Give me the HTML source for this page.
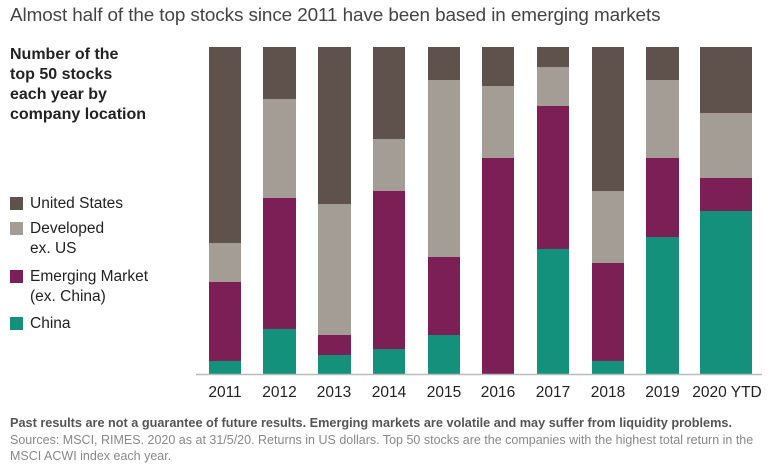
<!DOCTYPE html>
<html><head><meta charset="utf-8"><style>
body{margin:0;background:#fff;width:774px;height:475px;overflow:hidden;position:relative;font-family:"Liberation Sans",sans-serif;color:#222}
.t{position:absolute;white-space:nowrap}
.sq{position:absolute;left:10px;width:13px;height:13px}
</style></head><body>
<div class="t" style="left:10px;top:5px;font-size:18.9px;color:#444;letter-spacing:-0.1px">Almost half of the top stocks since 2011 have been based in emerging markets</div>
<div class="t" style="left:10px;top:45px;font-size:16px;font-weight:bold;line-height:20px;color:#222">Number of the<br>top 50 stocks<br>each year by<br>company location</div>

<div class="sq" style="top:197px;background:#5f524c"></div>
<div class="t" style="left:30px;top:194px;font-size:15.5px;line-height:20px">United States</div>
<div class="sq" style="top:222px;background:#a39d96"></div>
<div class="t" style="left:30px;top:219px;font-size:15.5px;line-height:20px">Developed<br>ex. US</div>
<div class="sq" style="top:270px;background:#7b1f56"></div>
<div class="t" style="left:30px;top:267px;font-size:15.5px;line-height:20px">Emerging Market<br>(ex. China)</div>
<div class="sq" style="top:317px;background:#13917a"></div>
<div class="t" style="left:30px;top:314px;font-size:15.5px;line-height:20px">China</div>

<svg style="position:absolute;left:0;top:0" width="774" height="475">
<g id="bars"></g>
<line x1="196" y1="374.5" x2="762" y2="374.5" stroke="#bbb" stroke-width="1.5"/>
<g font-family="Liberation Sans, sans-serif" font-size="15.5" fill="#222" text-anchor="middle">
<text x="225" y="397">2011</text><text x="279.5" y="397">2012</text><text x="334" y="397">2013</text><text x="389" y="397">2014</text><text x="444" y="397">2015</text><text x="498" y="397">2016</text><text x="553" y="397">2017</text><text x="608" y="397">2018</text><text x="662.5" y="397">2019</text><text x="727" y="397">2020 YTD</text>
</g>
</svg>
<div class="t" style="left:10px;top:416px;font-size:12.7px;font-weight:bold;color:#555">Past results are not a guarantee of future results. Emerging markets are volatile and may suffer from liquidity problems.</div>
<div class="t" style="left:10px;top:432px;font-size:12.5px;color:#888;line-height:16px">Sources: MSCI, RIMES. 2020 as at 31/5/20. Returns in US dollars. Top 50 stocks are the companies with the highest total return in the<br>MSCI ACWI index each year.</div>
<script>
var d=[[209,32,243,282,361],[263,33,99,198,329],[318,33,204,335,355],[373,32,139,191,349],[428,32,80,257,335],[482,32,86,158,374],[537,32,67,106,249],[592,32,191,263,361],[646,33,80,158,237],[700,52,113,178,211]];
var c=["#5f524c","#a39d96","#7b1f56","#13917a"],s="";
d.forEach(function(b){var y=[47,b[2],b[3],b[4],374];for(var i=0;i<4;i++){if(y[i+1]>y[i])s+='<rect x="'+b[0]+'" y="'+y[i]+'" width="'+b[1]+'" height="'+(y[i+1]-y[i])+'" fill="'+c[i]+'"/>';}});
document.getElementById("bars").innerHTML=s;
</script>
</body></html>
